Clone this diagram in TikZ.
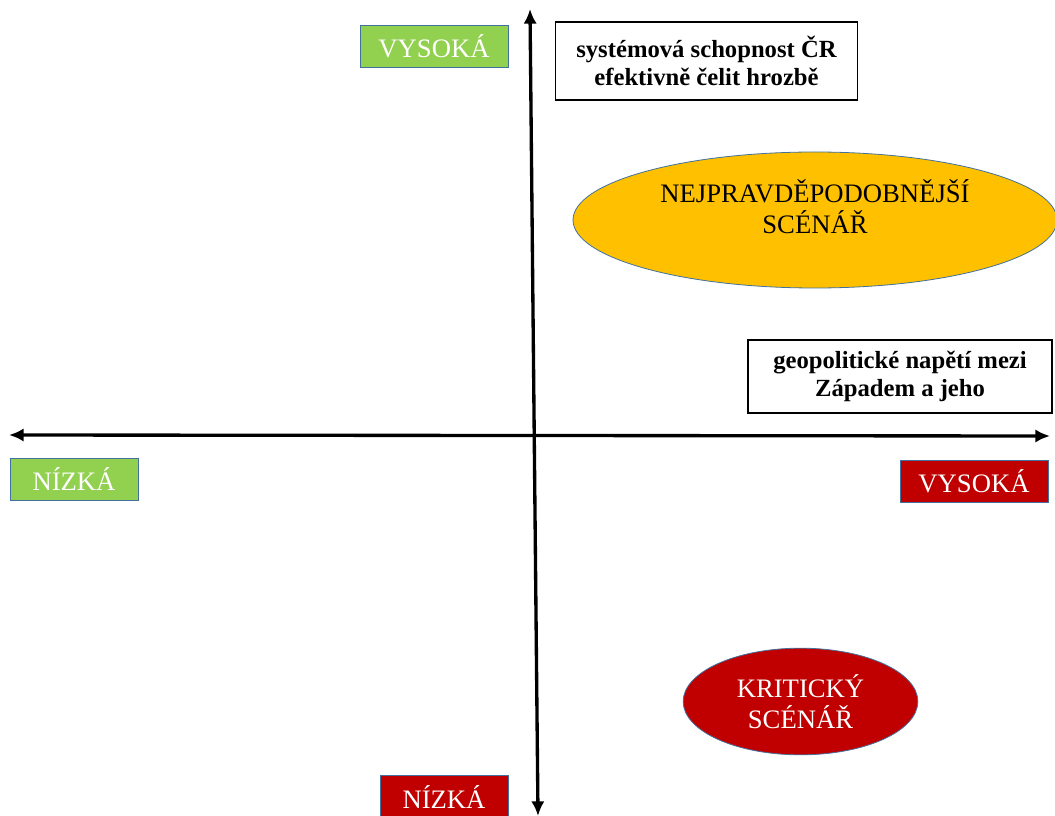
\documentclass[tikz,border=0pt]{standalone}
\usepackage{fontspec}
\setmainfont{Liberation Serif}
\usepackage{tikz}
\usetikzlibrary{arrows.meta}
\usetikzlibrary{shapes.geometric}

\definecolor{boxgreen}{RGB}{146,208,80}
\definecolor{boxred}{RGB}{192,0,0}
\definecolor{boxorange}{RGB}{255,192,0}
\definecolor{boxblue}{RGB}{65,113,156}

\begin{document}
\begin{tikzpicture}[x=0.75pt, y=-0.75pt, inner sep=0pt,
        label_style/.style={rectangle,draw=boxblue,line width=0.6pt,text=white,font=\fontsize{20}{22.5}\selectfont},
        green_label_style/.style={label_style,fill=boxgreen},
        red_label_style/.style={label_style,fill=boxred},
        axis_box_style/.style={rectangle,draw=black,line width=0.8pt,fill=white,align=center,font=\fontsize{18.5}{21}\selectfont\bfseries},
        scenario_style/.style={ellipse,draw=boxblue,line width=0.6pt,align=center,font=\fontsize{20}{23}\selectfont},
        edge_style/.style={draw=black, line width=2.5pt, {Latex[length=11pt,width=10pt]}-{Latex[length=11pt,width=10pt]}}]

        \useasboundingbox (0,0) rectangle (1055,816);

        \coordinate (top) at (530,9);
        \coordinate (bottom) at (538,816);
        \coordinate (left) at (9,435);
        \coordinate (right) at (1050,436);

        \draw [edge_style] (left) -- (right);

        \draw [edge_style] (top) -- (bottom);

        \node [green_label_style, minimum width=111pt, minimum height=31.5pt](n1) at (434,46) {VYSOKÁ};

        \node [axis_box_style, minimum width=227pt, minimum height=58.5pt](n2) at (706.5,61) {systémová schopnost ČR\\efektivně čelit hrozbě};

        \node [scenario_style, fill=boxorange, text=black, text depth=20pt, minimum width=363pt, minimum height=102pt](n3) at (815,220) {NEJPRAVDĚPODOBNĚJŠÍ\\SCÉNÁŘ};

        \node [axis_box_style, minimum width=228pt, minimum height=54.75pt](n4) at (900,376.5) {geopolitické napětí mezi\\Západem a jeho};

        \node [green_label_style, minimum width=96pt, minimum height=32pt](n5) at (74,479.5) {NÍZKÁ};

        \node [red_label_style, minimum width=111pt, minimum height=31.5pt](n6) at (974,481) {VYSOKÁ};

        \node [scenario_style, fill=boxred, text=white, minimum width=176pt, minimum height=80pt](n7) at (800.5,701.5) {KRITICKÝ\\SCÉNÁŘ};

        \node [red_label_style, minimum width=96pt, minimum height=32pt](n8) at (444,797) {NÍZKÁ};

        \end{tikzpicture}
\end{document}
